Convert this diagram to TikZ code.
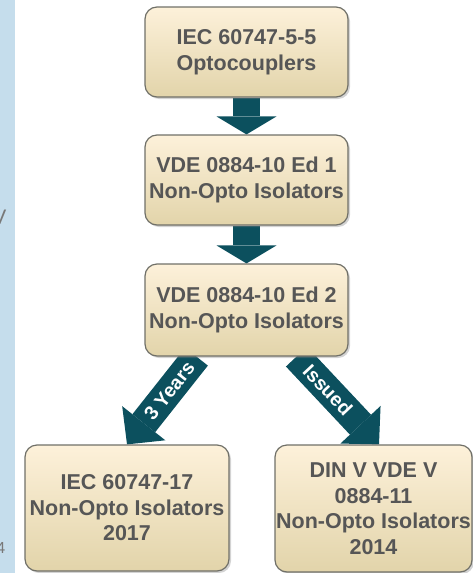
\documentclass[tikz,border=0pt]{standalone}
\usepackage{fontspec}
\setmainfont{Liberation Sans}
\usepackage{tikz}
\usetikzlibrary{arrows.meta}
\usetikzlibrary{shadows}
\usetikzlibrary{backgrounds}

\definecolor{boxtop}{RGB}{253,241,218}
\definecolor{boxbot}{RGB}{226,212,170}
\definecolor{boxline}{RGB}{112,112,104}
\definecolor{boxtext}{RGB}{86,86,86}
\definecolor{arrowteal}{RGB}{12,80,94}
\definecolor{stripblue}{RGB}{197,221,236}
\definecolor{fraggrey}{RGB}{120,120,120}

\begin{document}
\begin{tikzpicture}[
    x=1pt, y=-1pt,
    every node/.style={font=\fontsize{21.5}{25.5}\selectfont\bfseries, text=boxtext, align=center, inner sep=0pt},
    stdbox/.style={draw=boxline, line width=1.2pt, rounded corners=12pt,
        top color=boxtop, bottom color=boxbot,
        drop shadow={shadow xshift=2pt, shadow yshift=-2pt, opacity=0.35},
        minimum width=203pt, minimum height=90pt},
    downarrow/.style={draw=arrowteal, line width=27pt,
        -{Triangle[width=60pt, length=18pt, line width=0pt]}},
    sidearrow/.style={draw=arrowteal, line width=29pt,
        -{Triangle[width=55pt, length=27pt, line width=0pt]}},
    armlabel/.style={font=\fontsize{19.5}{19.5}\selectfont\bfseries, text=white, sloped}
]
    \useasboundingbox (0,0) rectangle (473,573);

    % Side strip
    \fill[stripblue] (0,0) rectangle (15,573);
    \begin{scope}
        \clip (0,0) rectangle (15,573);
        \node[font=\fontsize{21}{21}\selectfont, text=fraggrey, anchor=east] (fragv) at (6.5,217.5) {V};
        \node[font=\fontsize{16}{16}\selectfont, text=fraggrey, anchor=east] (frag4) at (5.5,547.5) {4};
    \end{scope}

    % Nodes
    \node[stdbox] (iec55) at (246.5,52) {IEC 60747-5-5\\Optocouplers};
    \node[stdbox] (vde1) at (246.5,180) {VDE 0884-10 Ed 1\\Non-Opto Isolators};
    \node[stdbox, minimum height=92pt] (vde2) at (246.5,310) {VDE 0884-10 Ed 2\\Non-Opto Isolators};
    \node[stdbox, minimum width=204pt, minimum height=126pt] (iec17) at (127,508) {IEC 60747-17\\Non-Opto Isolators\\2017};
    \node[stdbox, minimum width=197pt, minimum height=127pt] (din) at (373.5,508.5) {DIN V VDE V\\0884-11\\Non-Opto Isolators\\2014};

    % Edges
    \begin{scope}[on background layer]
        \draw[downarrow] (iec55.south) -- (vde1.north);
        \draw[downarrow] (vde1.south) -- (vde2.north);
        \draw[sidearrow] ([xshift=-50pt]vde2.south) -- (iec17.north) node[armlabel, pos=0.39] {3 Years};
        \draw[sidearrow] ([xshift=50pt]vde2.south) -- ([xshift=5.5pt]din.north) node[armlabel, pos=0.38] {Issued};
    \end{scope}
\end{tikzpicture}
\end{document}
